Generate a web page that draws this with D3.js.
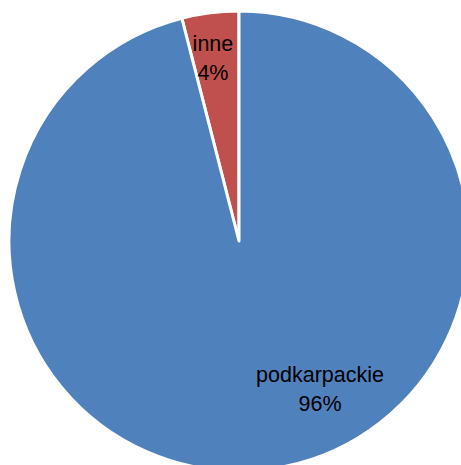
<!DOCTYPE html>
<html>
<head>
<meta charset="utf-8">
<script src="https://cdn.jsdelivr.net/npm/d3@7"></script>
<style>
  body { margin: 0; background: #fff; }
  text { font-family: "Liberation Sans", Arial, sans-serif; font-size: 21.5px; fill: #000; }
</style>
</head>
<body>
<script>
// data
var categories = ["inne", "podkarpackie"];
var shares = [4, 96];
var colors = ["#C0504D", "#4F81BD"];

var svgWidth = 461;
var svgHeight = 465;
var cx = 239, cy = 241, radius = 230;

var svg = d3.select("body")
  .append("svg")
  .attr("width", svgWidth)
  .attr("height", svgHeight);

var g = svg.append("g")
  .attr("transform", `translate(${cx}, ${cy})`);

var data = categories.map(function(c, i) { return { name: c, value: shares[i], color: colors[i] }; });

// first slice ends at 12 o'clock, going counter-clockwise from there
var pie = d3.pie()
  .value(d => d.value)
  .sort(null)
  .startAngle(-2 * Math.PI * shares[0] / 100)
  .endAngle(2 * Math.PI - 2 * Math.PI * shares[0] / 100);

var arc = d3.arc().innerRadius(0).outerRadius(radius);

var arcs = pie(data);

g.selectAll("path")
  .data(arcs)
  .enter()
  .append("path")
  .attr("d", arc)
  .attr("fill", d => d.data.color)
  .attr("stroke", "#fff")
  .attr("stroke-width", 3)
  .attr("stroke-linejoin", "round");

// label spots: small slice near its outer edge, big one lower right like excel puts it
var labelPos = [
  d3.arc().innerRadius(192).outerRadius(192).centroid(arcs[0]),
  [81, 141]
];

var labels = g.selectAll(".lbl")
  .data(arcs)
  .enter()
  .append("text")
  .attr("class", "lbl")
  .attr("text-anchor", "middle")
  .attr("transform", (d, i) => `translate(${labelPos[i][0] - (i === 0 ? 2 : 0)}, ${labelPos[i][1]})`);

labels.append("tspan")
  .attr("x", 0)
  .attr("y", 0)
  .text(d => d.data.name);

labels.append("tspan")
  .attr("x", 0)
  .attr("y", 29)
  .text(d => d.data.value + "%");
</script>
</body>
</html>
